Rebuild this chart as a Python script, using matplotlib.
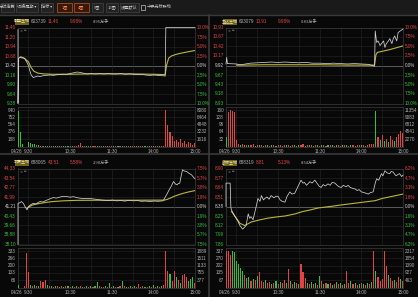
import numpy as np
import matplotlib
matplotlib.use("Agg")
import matplotlib.pyplot as plt
from matplotlib.patches import Rectangle

W, H = 418, 297

# ---- data ----
DATE = "04/26"
TIME_TICKS = [0, 60, 120, 180, 240]
TIME_LABELS = ["9:30", "10:30", "11:30", "14:00", "15:00"]
VOL_M = list(range(-15, 241, 3))

NAMES = ["蔚蓝生物", "圣达生物", "凯赛生物", "欧林生物"]
CODES = ["603739", "603079", "688065", "688319"]
LAST = ["11.46", "10.91", "43.51", "8.81"]
PCT = ["9.98%", "9.98%", "5.58%", "5.13%"]
VOLS = ["8.95万手", "0.83万手", "2.98万手", "8.54万手"]

PRICE_TICKS = [
    [11.46, 11.20, 10.94, 10.68, 10.42, 10.16, 9.90, 9.64, 9.38],
    [10.91, 10.67, 10.42, 10.17, 9.92, 9.67, 9.43, 9.18, 8.93],
    [44.33, 43.54, 42.77, 41.99, 41.21, 40.43, 39.66, 38.88, 38.10],
    [8.90, 8.77, 8.64, 8.51, 8.38, 8.25, 8.12, 7.99, 7.86],
]
PCT_TICKS = [
    ["10.0%", "7.5%", "5.0%", "2.5%", "0.0%", "2.5%", "5.0%", "7.5%", "10.0%"],
    ["10.0%", "7.5%", "5.0%", "2.5%", "0.0%", "2.5%", "5.0%", "7.5%", "10.0%"],
    ["7.5%", "5.7%", "3.8%", "1.9%", "0.0%", "1.9%", "3.8%", "5.7%", "7.5%"],
    ["6.2%", "4.7%", "3.1%", "1.6%", "0.0%", "1.6%", "3.1%", "4.7%", "6.2%"],
]
VOL_TICKS_L = [
    [940, 752, 564, 376, 188],
    [160, 128, 96, 64, 32],
    [333, 266, 200, 133, 66],
    [337, 270, 202, 135, 67],
]
VOL_TICKS_R = [
    ["8080", "6464", "4848", "3232", "1616"],
    ["11354", "9083", "6812", "4541", "2270"],
    ["1889", "1511", "1133", "755", "377"],
    ["2317", "1854", "1390", "927", "463"],
]

# price line (minute, price)
TL_M = [-15, -15, -14, -11, -8, -5, -2, 0, 2, 4, 7, 10, 13, 17, 21, 25, 31, 36, 42, 48, 55, 60, 65,
        70, 75, 79, 85, 90, 96, 103, 109, 115, 121, 127, 133, 140, 146, 151, 157, 163, 169, 175,
        181, 187, 194, 197, 198, 240]
TL_P = [11.40, 9.38, 10.62, 10.66, 10.64, 10.60, 10.50, 10.42, 10.28, 10.16, 10.09, 10.11, 10.13,
        10.12, 10.14, 10.15, 10.16, 10.15, 10.17, 10.18, 10.18, 10.20, 10.22, 10.24, 10.23, 10.21,
        10.19, 10.20, 10.19, 10.20, 10.19, 10.20, 10.19, 10.19, 10.20, 10.18, 10.19, 10.18, 10.17,
        10.18, 10.16, 10.15, 10.16, 10.15, 10.14, 10.13, 11.46, 11.46]
TL_AM = [-12, -6, 0, 4, 8, 14, 22, 35, 60, 90, 120, 150, 180, 197, 199, 202, 206, 212, 218, 226, 234, 240]
TL_A = [10.64, 10.62, 10.52, 10.36, 10.26, 10.21, 10.19, 10.18, 10.18, 10.19, 10.19, 10.19, 10.18,
        10.17, 10.42, 10.62, 10.68, 10.72, 10.75, 10.78, 10.81, 10.83]

TR_M = [-15, -14, -13, 0, 5, 10, 20, 30, 40, 50, 60, 70, 80, 90, 100, 110, 120, 130, 140, 150, 160,
        170, 180, 190, 196, 199, 200, 202, 204, 207, 209, 212, 214, 216, 219, 221, 224, 226, 228,
        231, 233, 236, 240]
TR_P = [9.96, 10.13, 9.97, 9.96, 9.94, 9.95, 9.98, 9.99, 10.00, 10.01, 10.00, 10.01, 10.00, 9.99,
        10.00, 9.98, 9.98, 9.97, 9.98, 9.97, 9.96, 9.97, 9.96, 9.95, 9.92, 9.90, 10.82, 10.52, 10.56,
        10.44, 10.49, 10.56, 10.39, 10.49, 10.56, 10.62, 10.49, 10.62, 10.69, 10.56, 10.78, 10.82, 10.87]
TR_AM = [0, 10, 40, 80, 120, 160, 199, 201, 203, 210, 220, 230, 240]
TR_A = [9.93, 9.93, 9.94, 9.94, 9.94, 9.93, 9.93, 10.20, 10.26, 10.29, 10.33, 10.38, 10.43]

BL_M = [-15, -15, -13, -10, -7, -5, -2, 0, 3, 7, 11, 14, 17, 21, 25, 31, 36, 40, 45, 50, 55, 60, 65,
        70, 74, 80, 86, 93, 98, 103, 110, 116, 121, 127, 133, 139, 145, 151, 157, 163, 169, 175,
        181, 187, 194, 199, 203, 206, 209, 212, 214, 216, 218, 220, 222, 225, 228, 231, 235, 238, 240]
BL_P = [38.10, 41.48, 41.50, 41.62, 41.45, 41.21, 40.94, 41.21, 41.35, 41.48, 41.42, 41.55, 41.62,
        41.58, 41.70, 41.84, 41.95, 41.90, 41.98, 42.05, 42.03, 41.98, 42.02, 41.94, 41.90, 41.86,
        41.88, 41.84, 41.80, 41.76, 41.72, 41.70, 41.74, 41.68, 41.70, 41.66, 41.72, 41.68, 41.70,
        41.64, 41.66, 41.62, 41.66, 41.64, 41.68, 42.17, 42.60, 42.90, 43.26, 43.05, 42.99, 43.10,
        43.12, 43.70, 44.22, 44.12, 44.08, 43.95, 43.81, 43.60, 43.48]
BL_AM = [-2, 0, 5, 10, 17, 25, 35, 50, 70, 100, 150, 196, 200, 205, 210, 215, 222, 230, 240]
BL_A = [41.05, 41.15, 41.32, 41.40, 41.47, 41.55, 41.62, 41.68, 41.72, 41.73, 41.73, 41.74, 41.80,
        41.92, 42.05, 42.15, 42.28, 42.40, 42.52]

BR_M = [-15, -15, -9, -8, -7, -2, 2, 5, 9, 12, 14, 17, 19, 21, 24, 26, 29, 31, 34, 36, 39, 41, 44,
        47, 50, 54, 57, 60, 63, 66, 70, 73, 77, 80, 84, 87, 90, 93, 96, 98, 101, 103, 106, 109, 113,
        116, 119, 122, 125, 128, 132, 135, 138, 142, 145, 148, 151, 154, 158, 161, 164, 167, 171,
        174, 177, 180, 184, 187, 190, 193, 197, 200, 202, 205, 209, 211, 214, 217, 221, 223, 226,
        228, 230, 233, 235, 238, 240]
BR_P = [8.38, 8.70, 8.70, 8.37, 8.33, 8.24, 8.18, 8.12, 8.07, 8.10, 8.12, 8.28, 8.22, 8.24, 8.20,
        8.28, 8.40, 8.49, 8.45, 8.53, 8.47, 8.49, 8.51, 8.48, 8.53, 8.50, 8.52, 8.52, 8.47, 8.45, 8.44,
        8.52, 8.58, 8.55, 8.56, 8.62, 8.68, 8.74, 8.70, 8.71, 8.67, 8.69, 8.72, 8.70, 8.74, 8.70, 8.66,
        8.64, 8.68, 8.66, 8.69, 8.67, 8.71, 8.70, 8.67, 8.65, 8.64, 8.67, 8.65, 8.67, 8.64, 8.63, 8.62,
        8.60, 8.61, 8.58, 8.57, 8.56, 8.55, 8.57, 8.58, 8.70, 8.76, 8.74, 8.83, 8.80, 8.87, 8.84, 8.83,
        8.86, 8.85, 8.82, 8.80, 8.82, 8.83, 8.79, 8.81]
BR_AM = [-7, 0, 5, 12, 22, 35, 45, 60, 70, 85, 95, 105, 118, 135, 150, 175, 200, 210, 220, 230, 240]
BR_A = [8.31, 8.22, 8.15, 8.12, 8.17, 8.20, 8.22, 8.24, 8.25, 8.28, 8.31, 8.33, 8.36, 8.38, 8.40,
        8.43, 8.46, 8.49, 8.51, 8.53, 8.55]

# volume per 3-minute slot, colour per slot (r = up, g = down)
TL_V = [930, 370, 60, 0, 0, 120, 90, 60, 70, 40,
        30, 20, 25, 15, 20, 10, 15, 12, 8, 10,
        15, 8, 10, 6, 12, 8, 5, 10, 20, 30,
        100, 15, 8, 5, 6, 10, 5, 8, 4, 6,
        5, 8, 10, 6, 4, 5, 8, 6, 4, 5,
        6, 4, 8, 5, 6, 10, 5, 4, 6, 8,
        5, 6, 4, 8, 10, 5, 6, 8, 10, 12,
        20, 940, 560, 380, 260, 150, 180, 120, 200, 90,
        150, 60, 120, 80, 50, 100]
TL_C = "gggggggggr" "ggrgggrggr" "grgggrgrrr" "rgrgrgrrgg" "rgrgrrgrgr" "grgrgrrggr" "rgrgrgrrgr" "rrrrrrrrrr" "rrrrrr"

TR_V = [40, 150, 160, 155, 150, 30, 12, 8, 10, 6,
        8, 5, 6, 10, 4, 6, 5, 8, 4, 5,
        6, 4, 5, 8, 4, 6, 5, 4, 6, 5,
        8, 4, 5, 6, 4, 5, 6, 10, 4, 5,
        6, 5, 4, 8, 5, 4, 6, 5, 4, 6,
        5, 8, 4, 6, 5, 4, 6, 8, 5, 4,
        6, 5, 4, 6, 8, 5, 6, 4, 8, 10,
        12, 10, 155, 40, 30, 50, 25, 35, 20, 45,
        30, 25, 40, 55, 70, 60]
TR_C = "grrrrrrgrg" "rgrrgrgrgr" "grgrgrrgrg" "rgrgrgrrgr" "grgrgrgrrg" "rgrgrrgrgr" "grgrrgrgrr" "rrgrgrgrgr" "rgrrrr"

BL_V = [20, 0, 0, 10, 320, 140, 25, 15, 20, 10,
        15, 60, 50, 65, 20, 10, 15, 8, 12, 10,
        8, 12, 6, 10, 15, 8, 10, 6, 12, 8,
        10, 6, 8, 12, 6, 10, 8, 15, 50, 10,
        6, 8, 10, 6, 45, 8, 10, 6, 8, 12,
        60, 10, 8, 6, 10, 8, 12, 6, 30, 8,
        10, 6, 8, 12, 6, 25, 8, 10, 6, 12,
        20, 330, 155, 125, 60, 155, 95, 65, 40, 110,
        125, 95, 60, 80, 95, 40]
BL_C = "gggrrrgrgr" "grrrgrgrgr" "grgrgrgrgr" "rgrgrgrggr" "grgrgrgrgr" "grgrgrgrrg" "rgrgrgrgrg" "rrrgrrgrgr" "rrgggr"

BR_V = [337, 337, 300, 337, 330, 250, 220, 180, 150, 120,
        90, 100, 60, 80, 70, 110, 140, 60, 50, 70,
        40, 55, 30, 45, 60, 35, 50, 40, 65, 45,
        170, 60, 35, 50, 40, 30, 215, 140, 90, 45,
        30, 50, 35, 40, 25, 111, 60, 35, 40, 30,
        45, 25, 35, 50, 30, 40, 25, 35, 155, 45,
        60, 30, 40, 25, 35, 45, 30, 25, 40, 35,
        50, 337, 150, 100, 60, 80, 337, 200, 120, 90,
        60, 70, 50, 100, 80, 60]
BR_C = "rrrggggggr" "ggrgrgrrrg" "rrgrgrgrrg" "rgrgrgrrrg" "rgrgrgrgrg" "rgrgrgrgrr" "grgrgrgrgr" "grgrrrrrgr" "rgrrgr"

PRICE_M = [TL_M, TR_M, BL_M, BR_M]
PRICE_P = [TL_P, TR_P, BL_P, BR_P]
AVG_M = [TL_AM, TR_AM, BL_AM, BR_AM]
AVG_P = [TL_A, TR_A, BL_A, BR_A]
VOL_V = [TL_V, TR_V, BL_V, BR_V]
VOL_C = [TL_C, TR_C, BL_C, BR_C]

# ---- style ----
BG = "#080808"
GRID = "#262626"
FRAME = "#3c3c3c"
RED = "#e04545"
GREEN = "#35c035"
WHITE = "#d0d0d0"
YELLOW = "#bdb63a"
GRAY = "#b0b0b0"
NUM = ["Liberation Sans Narrow", "Liberation Sans", "DejaVu Sans"]
CJK = ["Noto Sans CJK SC", "DejaVu Sans"]
FS = 3.3

fig = plt.figure(figsize=(W / 100, H / 100), dpi=100, facecolor=BG)
bg = fig.add_axes([0, 0, 1, 1])
bg.set_xlim(0, W)
bg.set_ylim(H, 0)
bg.axis("off")
bg.set_facecolor(BG)


def px_axes(x0, y0, x1, y1):
    a = fig.add_axes([x0 / W, 1 - y1 / H, (x1 - x0) / W, (y1 - y0) / H])
    a.set_facecolor(BG)
    for s in a.spines.values():
        s.set_color(FRAME)
        s.set_linewidth(0.5)
    a.set_xticks([])
    a.set_yticks([])
    a.set_xlim(-15, 240)
    return a


# toolbar
bg.add_patch(Rectangle((0, 0), W, 14, color="#1a1a1a", zorder=0))
buttons = [("分时走势", 1, 14, False), ("切换周期 ▾", 16, 38, False), ("指标 ▾", 41, 53, False),
           ("1图", 57, 72, True), ("4图", 74, 89, True), ("9图", 92, 103, False),
           ("16图", 106, 118, False), ("设置默认", 120, 139, False)]
for label, x0, x1, hot in buttons:
    bg.add_patch(Rectangle((x0, 2.5), x1 - x0, 9, facecolor="#3a1808" if hot else "#222222",
                           edgecolor="#c8581e" if hot else "#444444", linewidth=0.5))
    bg.text((x0 + x1) / 2, 7, label, fontsize=3.0, family=CJK, color="#ff8a4a" if hot else "#c8c8c8",
            ha="center", va="center")
bg.add_patch(Rectangle((141, 4.5), 4, 5, facecolor="none", edgecolor="#c0c0c0", linewidth=0.5))
bg.text(147, 7, "十字光标联动", fontsize=3.0, family=CJK, color="#c8c8c8", va="center")

# panel dividers
bg.plot([0, W], [15, 15], color="#3a3a3a", lw=1)
bg.plot([0, W], [153.5, 153.5], color="#3a3a3a", lw=1.2)
bg.plot([209, 209], [15, H], color="#3a3a3a", lw=1.2)

OFFS = [(0, 0), (208, 0), (0, 141), (208, 141)]

for k, (ox, oy) in enumerate(OFFS):
    ticks = PRICE_TICKS[k]
    # title row
    bg.add_patch(Rectangle((ox + 15, oy + 18.5), 13.5, 6, facecolor="#6e6220", edgecolor="none"))
    bg.text(ox + 21.75, oy + 21.5, NAMES[k], fontsize=2.9, family=CJK, color="#f0e6a0",
            ha="center", va="center")
    bg.text(ox + 30.5, oy + 21.5, CODES[k], fontsize=FS, family=NUM, color=GRAY, va="center")
    bg.text(ox + 48, oy + 21.5, LAST[k], fontsize=FS, family=NUM, color=RED, va="center")
    bg.text(ox + 70, oy + 21.5, PCT[k], fontsize=FS, family=NUM, color=RED, va="center")
    bg.text(ox + 93, oy + 21.5, VOLS[k], fontsize=3.0, family=CJK, color=GRAY, va="center")

    # price area
    ax = px_axes(ox + 18, oy + 27.5, ox + 195, oy + 103.5)
    ax.set_ylim(ticks[-1], ticks[0])
    for i, t in enumerate(ticks):
        ax.axhline(t, color="#6a6a6a" if i == 4 else GRID, lw=0.6 if i == 4 else 0.4, zorder=1)
        c = RED if i < 4 else (WHITE if i == 4 else GREEN)
        ax.text(-0.012, t, f"{t:.2f}", transform=ax.get_yaxis_transform(), ha="right", va="center",
                fontsize=FS, family=NUM, color=c, clip_on=False)
        ax.text(1.008, t, PCT_TICKS[k][i], transform=ax.get_yaxis_transform(), ha="left",
                va="center", fontsize=FS, family=NUM, color=c, clip_on=False)
    for m in range(0, 241, 30):
        ax.axvline(m, color=GRID, lw=0.4, zorder=1)
    ax.plot(AVG_M[k], AVG_P[k], color=YELLOW, lw=0.8, zorder=3)
    ax.plot(PRICE_M[k], PRICE_P[k], color=WHITE, lw=0.55, zorder=4, clip_on=False)
    ax.text(-12, ticks[0] - (ticks[0] - ticks[-1]) * 0.05, "× ═", fontsize=2.6, color="#909090",
            va="center")

    # volume area
    vx = px_axes(ox + 18, oy + 106.5, ox + 195, oy + 146.5)
    vmax = VOL_TICKS_L[k][0]
    vx.set_ylim(0, vmax * 1.1)
    for i, t in enumerate(VOL_TICKS_L[k]):
        vx.axhline(t, color=GRID, lw=0.4, zorder=1)
        vx.text(-0.012, t, str(t), transform=vx.get_yaxis_transform(), ha="right", va="center",
                fontsize=FS, family=NUM, color=GRAY, clip_on=False)
        vx.text(1.008, t, VOL_TICKS_R[k][i], transform=vx.get_yaxis_transform(), ha="left",
                va="center", fontsize=FS, family=NUM, color=GRAY, clip_on=False)
    for m in range(0, 241, 30):
        vx.axvline(m, color=GRID, lw=0.4, zorder=1)
    cols = [RED if c == "r" else GREEN for c in VOL_C[k]]
    vx.bar(VOL_M, VOL_V[k], width=1.6, color=cols, linewidth=0, zorder=3)

    # time labels
    for m, lab in zip(TIME_TICKS, TIME_LABELS):
        vx.text(m, -0.06, lab, transform=vx.get_xaxis_transform(), ha="center", va="top",
                fontsize=FS, family=NUM, color=GRAY, clip_on=False)
    vx.text(-8, -0.06, DATE, transform=vx.get_xaxis_transform(), ha="right", va="top",
            fontsize=FS, family=NUM, color=GRAY, clip_on=False)

fig.savefig("out.png", dpi=100, facecolor=BG)
